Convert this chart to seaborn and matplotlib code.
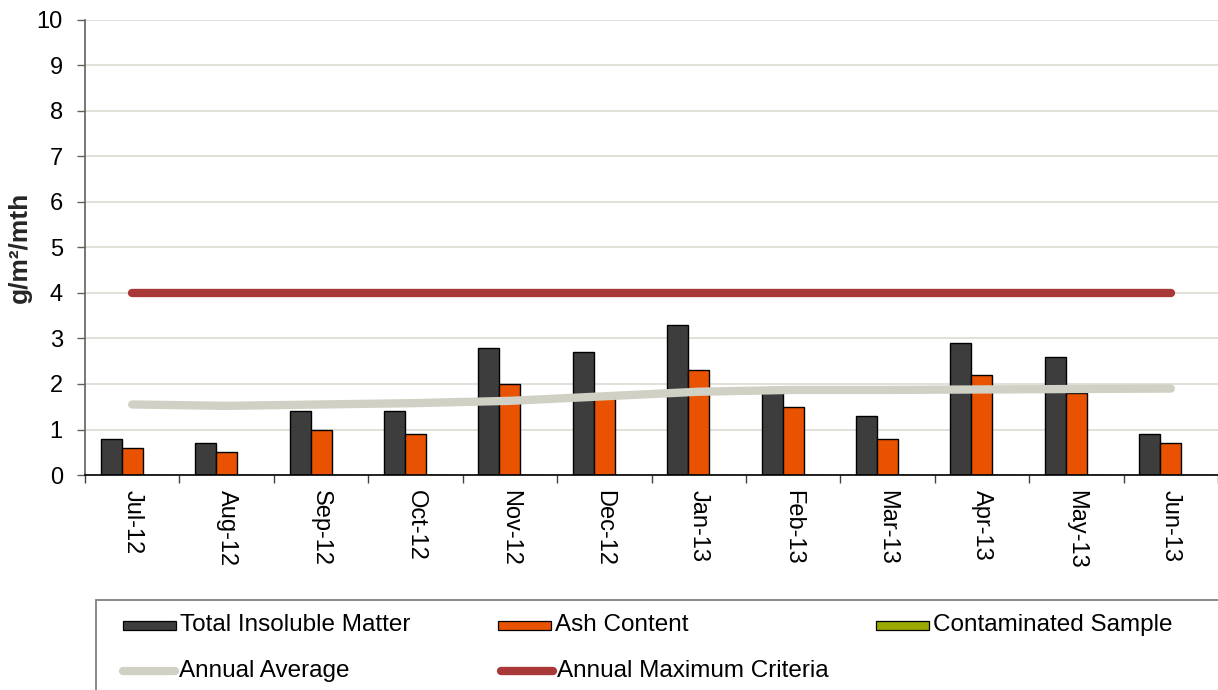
import numpy as np
import pandas as pd
import matplotlib
matplotlib.use("Agg")
import matplotlib.pyplot as plt
from matplotlib.patches import Rectangle
from matplotlib.lines import Line2D
import seaborn as sns

# Monthly dust deposition results
months = ["Jul-12", "Aug-12", "Sep-12", "Oct-12", "Nov-12", "Dec-12",
          "Jan-13", "Feb-13", "Mar-13", "Apr-13", "May-13", "Jun-13"]
total_insoluble = [0.8, 0.7, 1.4, 1.4, 2.8, 2.7, 3.3, 1.8, 1.3, 2.9, 2.6, 0.9]
ash_content = [0.6, 0.5, 1.0, 0.9, 2.0, 1.7, 2.3, 1.5, 0.8, 2.2, 1.8, 0.7]
contaminated = [0, 0, 0, 0, 0, 0, 0, 0, 0, 0, 0, 0]
annual_average = [1.55, 1.52, 1.55, 1.58, 1.63, 1.73, 1.83, 1.87, 1.87, 1.88, 1.89, 1.90]
annual_max = [4, 4, 4, 4, 4, 4, 4, 4, 4, 4, 4, 4]

series_names = ["Total Insoluble Matter", "Ash Content", "Contaminated Sample"]
bar_colors = ["#3d3d3d", "#e85200", "#9aaa00"]
avg_color = "#d0d0c4"
max_color = "#a93838"

sns.set_theme(style="white")
plt.rcParams["font.family"] = ["Liberation Sans", "DejaVu Sans"]

df = pd.DataFrame({
    "month": months * 3,
    "value": total_insoluble + ash_content + contaminated,
    "series": [series_names[0]] * len(months)
              + [series_names[1]] * len(months)
              + [series_names[2]] * len(months),
})

fig = plt.figure(figsize=(12.18, 6.90), dpi=100)
ax = fig.add_axes([85 / 1218, 1 - 475 / 690, 1 - 85 / 1218, 455 / 690])

sns.barplot(data=df, x="month", y="value", hue="series", hue_order=series_names,
            palette=bar_colors, width=0.667, edgecolor="black", linewidth=1.0,
            saturation=1, legend=False, ax=ax, zorder=2)

idx = np.arange(len(months))
sns.lineplot(x=idx, y=annual_average, color=avg_color, linewidth=6,
             solid_capstyle="round", ax=ax, zorder=3)
sns.lineplot(x=idx, y=annual_max, color=max_color, linewidth=6,
             solid_capstyle="round", ax=ax, zorder=3)

ax.set_xlim(-0.5, len(months) - 0.5)
ax.set_ylim(0, 10)
ax.set_yticks(range(0, 11))
ax.grid(axis="y", color="#dcdcd2", linewidth=1.2, zorder=0)
ax.set_axisbelow(True)

ax.set_xlabel("")
ax.set_ylabel("g/m\u00b2/mth", fontsize=19, fontweight="bold", labelpad=3)
ax.set_xticks(idx)
ax.set_xticklabels(months, rotation=-90, fontsize=17)
ax.set_xticks(np.arange(-0.5, len(months), 1.0), minor=True)
ax.tick_params(axis="x", which="major", length=0, pad=11, colors="black")
ax.tick_params(axis="x", which="minor", length=6, width=1, color="#404040",
               direction="out", bottom=True)
ax.tick_params(axis="y", which="major", length=6, width=1, color="#606060",
               direction="out", left=True, labelsize=17, pad=10)
for lab in ax.get_yticklabels():
    lab.set_color("black")

for side in ["top", "right"]:
    ax.spines[side].set_visible(False)
ax.spines["left"].set_color("#606060")
ax.spines["left"].set_linewidth(1.2)
ax.spines["bottom"].set_color("black")
ax.spines["bottom"].set_linewidth(1.2)

# Legend box along the bottom
W, H = 1218, 690
def fx(px):
    return px / W
def fy(py):
    return 1 - py / H

fig.add_artist(Rectangle((fx(96), fy(720)), fx(1160), 120 / H, transform=fig.transFigure,
                         facecolor="white", edgecolor="#808080", linewidth=1.3, zorder=1))

legend_font = 17.5
patch_entries = [(123, 625, series_names[0], bar_colors[0]),
                 (498, 625, series_names[1], bar_colors[1]),
                 (876, 625, series_names[2], bar_colors[2])]
for x0, yc, label, col in patch_entries:
    fig.add_artist(Rectangle((fx(x0), fy(yc + 4.5)), 53 / W, 9 / H,
                             transform=fig.transFigure, facecolor=col,
                             edgecolor="black", linewidth=0.9, zorder=2))
    fig.text(fx(x0 + 57), fy(yc), label, fontsize=legend_font,
             va="center", ha="left", color="black")

line_entries = [(123, 671, "Annual Average", avg_color),
                (501, 671, "Annual Maximum Criteria", max_color)]
for x0, yc, label, col in line_entries:
    fig.add_artist(Line2D([fx(x0), fx(x0 + 52)], [fy(yc), fy(yc)],
                          transform=fig.transFigure, color=col, linewidth=6,
                          solid_capstyle="round", zorder=2))
    fig.text(fx(x0 + 56), fy(yc), label, fontsize=legend_font,
             va="center", ha="left", color="black")

fig.savefig("out.png", dpi=100)
